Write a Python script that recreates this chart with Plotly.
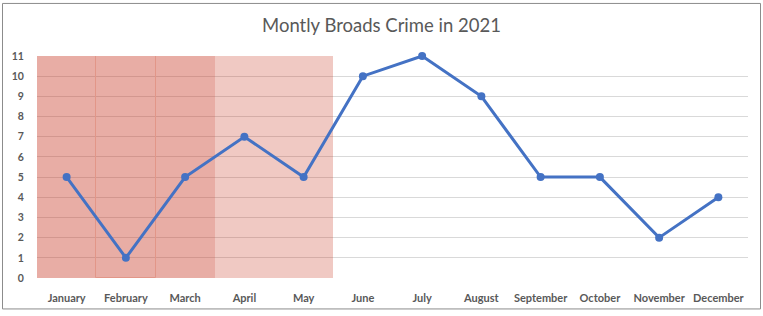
import plotly.graph_objects as go

months = ["January", "February", "March", "April", "May", "June", "July",
          "August", "September", "October", "November", "December"]
crimes = [5, 1, 5, 7, 5, 10, 11, 9, 5, 5, 2, 4]
highlight_top = [11, 11, 11, 11, 11, None, None, None, None, None, None, None]
highlight_level = ["dark", "dark", "dark", "light", "light", None, None, None, None, None, None, None]
divider_top = [None, 11, None, None, None, None, None, None, None, None, None, None]
y_ticks = list(range(0, 12))

fill = {"dark": "rgba(200,60,40,0.42)", "light": "rgba(200,60,40,0.28)", None: "rgba(0,0,0,0)"}

fig = go.Figure()
fig.add_trace(go.Bar(
    x=months, y=highlight_top, width=1,
    marker=dict(color=[fill[l] for l in highlight_level], line=dict(width=0)),
    hoverinfo="skip", showlegend=False,
))
fig.add_trace(go.Bar(
    x=months, y=divider_top, width=1,
    marker=dict(color="rgba(0,0,0,0)", line=dict(color="rgb(226,150,136)", width=1)),
    hoverinfo="skip", showlegend=False,
))
fig.add_trace(go.Scatter(
    x=months, y=crimes, mode="lines+markers", cliponaxis=False,
    line=dict(color="#4472C4", width=3),
    marker=dict(color="#4472C4", size=8),
    showlegend=False,
))

fig.update_layout(
    width=763, height=316,
    margin=dict(l=37, r=15, t=56, b=34),
    paper_bgcolor="white", plot_bgcolor="white",
    title=dict(text="Montly Broads Crime in 2021", x=0.5, xanchor="center",
               y=1 - 26 / 316, yanchor="middle",
               font=dict(family="Lato, Carlito, sans-serif", size=18.5, color="#595959")),
    barmode="overlay", bargap=0,
    xaxis=dict(type="category", showgrid=False, zeroline=False, showline=False,
               tickfont=dict(family="Lato, sans-serif", size=11, color="#595959", weight="bold"),
               ticks="outside", ticklen=10, tickcolor="rgba(0,0,0,0)",
               range=[-0.5, 11.5], fixedrange=True),
    yaxis=dict(range=[0, 11], tickvals=y_ticks, showgrid=True, gridcolor="#d9d9d9", gridwidth=1,
               zeroline=False, showline=False,
               tickfont=dict(family="Lato, sans-serif", size=10.5, color="#595959", weight="bold"),
               ticks="outside", ticklen=10, tickcolor="rgba(0,0,0,0)", fixedrange=True),
)

# outer chart border
fig.add_shape(type="rect", xref="paper", yref="paper",
              x0=(2.5 - 37) / 711, x1=(760.5 - 37) / 711,
              y0=(282 - 313.5) / 226, y1=(282 - 2.5) / 226,
              line=dict(color="#8c8c8c", width=1), fillcolor="rgba(0,0,0,0)", layer="above")

fig.write_html("out.html", config={"displayModeBar": False},
               post_script="document.body.style.margin='0';")
